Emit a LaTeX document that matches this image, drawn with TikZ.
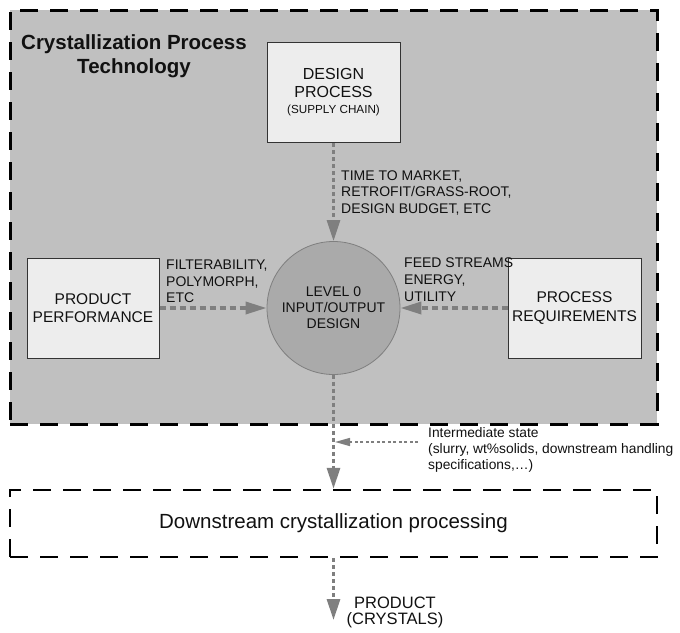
\documentclass[tikz,border=0pt]{standalone}
\usepackage{fontspec}
\setmainfont{Liberation Sans}
\usetikzlibrary{arrows.meta}
\definecolor{outerfill}{HTML}{C0C0C0}
\definecolor{boxfill}{HTML}{EDEDED}
\definecolor{circfill}{HTML}{AAAAAA}
\definecolor{arrowgray}{HTML}{7F7F7F}
\definecolor{boxline}{HTML}{333333}
\definecolor{txt}{HTML}{111111}
\begin{document}
\begin{tikzpicture}[x=1pt,y=-1pt,
  groupbox/.style={draw=black, line width=3pt, dash pattern=on 18pt off 12pt, inner sep=0pt},
  infobox/.style={draw=boxline, line width=1pt, fill=boxfill, minimum width=133pt, minimum height=100pt, inner sep=0pt, align=center, text=txt},
  hub/.style={circle, draw=arrowgray, line width=0.8pt, fill=circfill, minimum size=133pt, inner sep=0pt, align=center, text=txt, font=\fontsize{14}{16}\selectfont},
  flowh/.style={draw=arrowgray, line width=3.5pt, dash pattern=on 6pt off 4pt, -{Triangle[length=21pt,width=12pt]}},
  flowv/.style={draw=arrowgray, line width=3pt, dash pattern=on 4pt off 3pt, -{Triangle[length=21pt,width=13pt]}},
  flowthin/.style={draw=arrowgray, line width=1.5pt, dash pattern=on 3pt off 2.5pt, -{Triangle[length=15pt,width=8pt]}},
  lbl/.style={anchor=north west, inner sep=0pt, align=left, text=txt, font=\fontsize{14}{16.4}\selectfont},
]
\useasboundingbox (0,0) rectangle (680,632);
% group boxes
\node[groupbox, fill=outerfill, minimum width=647pt, minimum height=414pt] (outer) at (333.5,217) {};
\node[groupbox, line width=2.5pt, minimum width=647pt, minimum height=67pt, text=txt, font=\fontsize{20.5}{24}\selectfont] (down) at (333.5,523.5) {Downstream crystallization processing};
% title
\node[anchor=north, inner sep=0pt, align=center, text=txt, font=\bfseries\fontsize{20.5}{24}\selectfont] (title) at (134,34) {Crystallization Process\\Technology};
% boxes
\node[infobox, font=\fontsize{16}{18}\selectfont] (design) at (333.5,92.5) {DESIGN\\PROCESS\\[-2pt]{\fontsize{11.7}{13}\selectfont (SUPPLY CHAIN)}};
\node[infobox, minimum width=132pt, font=\fontsize{15.5}{18.5}\selectfont] (perf) at (93,308) {PRODUCT\\PERFORMANCE};
\node[infobox, font=\fontsize{15.5}{18.5}\selectfont] (req) at (574.5,308) {PROCESS\\REQUIREMENTS};
\node[hub] (hub) at (333.5,308) {LEVEL 0\\INPUT/OUTPUT\\DESIGN};
% connectors
\draw[flowv] (design.south) -- (hub.north);
\draw[flowh] (perf.east) -- (hub.west);
\draw[flowh] (req.west) -- (hub.east);
\draw[flowv] (hub.south) -- (down.north);
\coordinate (prodend) at (333.5,620);
\draw[flowv] (down.south) -- (prodend);
\coordinate (istart) at (418,442);
\coordinate (iend) at (335,442);
\draw[flowthin] (istart) -- (iend);
% labels
\node[lbl] (timelbl) at (341,170.5) {TIME TO MARKET,\\RETROFIT/GRASS-ROOT,\\DESIGN BUDGET, ETC};
\node[lbl] (filtlbl) at (166,260) {FILTERABILITY,\\POLYMORPH,\\ETC};
\node[lbl, font=\fontsize{14}{17}\selectfont] (feedlbl) at (404,258) {FEED STREAMS\\ENERGY,\\UTILITY};
\node[lbl, font=\fontsize{13.8}{16}\selectfont] (interlbl) at (428,427.5) {Intermediate state\\(slurry, wt\%solids, downstream handling\\specifications,…)};
\node[anchor=north, inner sep=0pt, align=center, text=txt, font=\fontsize{16.5}{16.5}\selectfont] (prodlbl) at (395,596.5) {PRODUCT\\(CRYSTALS)};
\end{tikzpicture}
\end{document}
